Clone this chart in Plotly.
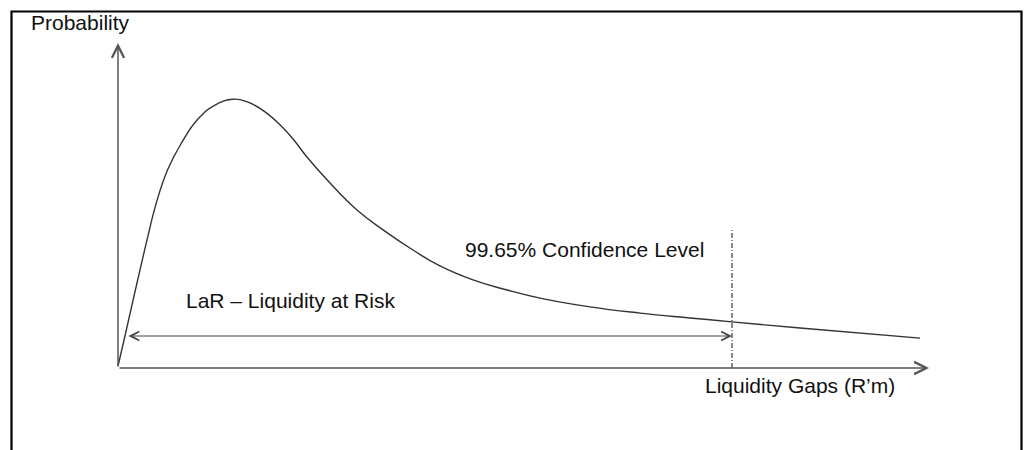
import plotly.graph_objects as go

# Liquidity gap (x, % of axis length) and probability density (y, % of axis height)
gap = [0.0, 0.86, 2.34, 3.58, 4.69, 6.17, 7.89, 9.86, 11.96, 14.18, 16.03, 18.13, 20.22,
       21.83, 23.3, 26.14, 29.47, 32.68, 36.37, 39.7, 43.77, 47.97, 52.03, 58.2, 64.36,
       70.53, 75.71, 84.1, 98.89]
prob = [0.62, 9.85, 26.15, 39.4, 50.5, 61.3, 69.5, 76.6, 80.9, 82.7, 81.8, 78.8, 74.2,
        69.7, 64.9, 56.9, 48.6, 42.5, 36.3, 31.4, 27.1, 24.0, 21.5, 18.8, 16.9,
        15.4, 14.2, 12.3, 9.2]

conf_x = 75.71        # 99.65% confidence threshold
conf_top = 43.1       # height of the dash-dot marker line
lar_y = 9.85          # height of the LaR double arrow
lar_start = 1.1
axis_len_x = 100
axis_len_y = 100

labels = {
    "y_title": "Probability",
    "x_title": "Liquidity Gaps (R\u2019m)",
    "conf": "99.65% Confidence Level",
    "lar": "LaR \u2013 Liquidity at Risk",
}

FONT = dict(family="Liberation Sans, Arial, sans-serif", size=21, color="#111111")
AXC = "#555555"
W, H = 1027, 450

fig = go.Figure()
fig.add_trace(go.Scatter(x=gap, y=prob, mode="lines",
                         line=dict(color="#333333", width=1.4, shape="spline", smoothing=1.3),
                         hoverinfo="skip", showlegend=False))
fig.add_trace(go.Scatter(x=[conf_x, conf_x], y=[0, conf_top], mode="lines",
                         line=dict(color="#111111", width=1, dash="5px,2px,1px,2px"),
                         hoverinfo="skip", showlegend=False))

def arrow(x, y, ax, ay, both=False, color=AXC, width=1.2):
    fig.add_annotation(x=x, y=y, ax=ax, ay=ay, xref="x", yref="y", axref="x", ayref="y",
                       text="", showarrow=True, arrowhead=5, startarrowhead=5,
                       arrowside="end+start" if both else "end",
                       arrowsize=1.6, startarrowsize=1.6, arrowwidth=width, arrowcolor=color,
                       standoff=0, startstandoff=0)

# axes
arrow(0, axis_len_y, 0, 0, width=1.5)
arrow(axis_len_x, 0, 0, 0, width=1.5)
# LaR arrow
arrow(conf_x, lar_y, lar_start, lar_y, both=True, color="#444444", width=1.1)

fig.add_annotation(x=-4.62, y=106.3, xref="x", yref="y", text=labels["y_title"], showarrow=False,
                   font=FONT, xanchor="center", yanchor="middle")
fig.add_annotation(x=84.09, y=-5.3, xref="x", yref="y", text=labels["x_title"], showarrow=False,
                   font=FONT, xanchor="center", yanchor="middle")
fig.add_annotation(x=57.46, y=36.6, xref="x", yref="y", text=labels["conf"], showarrow=False,
                   font=FONT, xanchor="center", yanchor="middle")
fig.add_annotation(x=21.21, y=20.8, xref="x", yref="y", text=labels["lar"], showarrow=False,
                   font=FONT, xanchor="center", yanchor="middle")

# outer frame
fig.add_shape(type="rect", xref="paper", yref="paper",
              x0=11.5 / W, x1=1021.5 / W,
              y0=-0.1, y1=1 - 11.5 / H, line=dict(color="black", width=2.2))

fig.update_layout(
    width=W, height=H, margin=dict(l=0, r=0, t=0, b=0),
    paper_bgcolor="white", plot_bgcolor="white",
    xaxis=dict(range=[-118 / 8.11, (W - 118) / 8.11], visible=False, fixedrange=True),
    yaxis=dict(range=[(368 - H) / 3.25, 368 / 3.25], visible=False, fixedrange=True),
)

fig.write_html("out.html", config={"displayModeBar": False, "staticPlot": True},
               post_script="document.body.style.margin='0';document.body.style.overflow='hidden';")
